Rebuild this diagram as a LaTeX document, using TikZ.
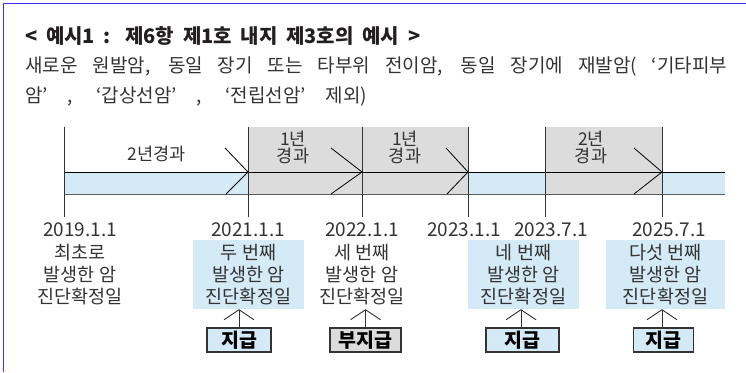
\documentclass[tikz,border=0pt]{standalone}
\usepackage{fontspec}
\setmainfont{Noto Sans CJK KR}
\usetikzlibrary{arrows.meta}
\definecolor{frameblue}{HTML}{3535F0}
\definecolor{bandblue}{HTML}{D5EAF7}
\definecolor{boxgray}{HTML}{DCDCDC}
\definecolor{ink}{HTML}{231F20}
\definecolor{txt}{HTML}{333333}
\definecolor{linegray}{HTML}{333333}
\tikzset{
  titletext/.style={anchor=base west, inner sep=0pt, text=ink, font=\bfseries\fontsize{20}{20}\selectfont},
  bodytext/.style={anchor=base west, inner sep=0pt, text=txt, font=\fontsize{19}{19}\selectfont},
  bandlabel/.style={inner sep=0pt, text=txt, align=center, font=\fontsize{17.5}{17}\selectfont},
  datelabel/.style={inner sep=0pt, text=txt, font=\fontsize{19}{19}\selectfont},
  desc/.style={inner sep=0pt, text=txt, align=center, minimum height=69pt, font=\fontsize{18.5}{21.8}\selectfont},
  descbox/.style={desc, fill=bandblue},
  paybox/.style={draw=linegray, line width=1.5pt, minimum height=24pt, inner sep=0pt, text=black, font=\bfseries\fontsize{19.5}{19.5}\selectfont},
  vline/.style={draw=linegray, line width=0.9pt},
  chev/.style={draw=black, line width=0.8pt},
  uparrow/.style={draw=linegray, line width=0.9pt, -{Straight Barb[width=30pt,length=10pt,line width=0.9pt]}},
}
\begin{document}
\begin{tikzpicture}[x=1pt,y=-1pt]
\useasboundingbox (0,0) rectangle (746,372);
% frame
\draw[frameblue, line width=1.5pt] (3.3,372) -- (3.3,3.5) -- (746,3.5);
% heading text
\node[titletext] (title) at (25,43) {\makebox[395pt][s]{< 예시1 : 제6항 제1호 내지 제3호의 예시 >}};
\node[bodytext] (body1) at (25,72.5) {\makebox[702pt][s]{새로운 원발암, 동일 장기 또는 타부위 전이암, 동일 장기에 재발암( ‘기타피부}};
\node[bodytext] (body2) at (25,102.5) {\makebox[342pt][s]{암’ , ‘갑상선암’ , ‘전립선암’ 제외)}};
% band
\fill[bandblue] (64,172) rectangle (725,194);
\fill[boxgray] (248,127) rectangle (468,194);
\fill[boxgray] (545,127) rectangle (662,194);
\draw[black, line width=0.9pt] (64,172) -- (725,172);
\draw[linegray!80, line width=0.9pt] (64,194) -- (725,194);
\foreach \x in {64,248,362,468,545,662} \draw[vline] (\x,127) -- (\x,217);
% chevrons
\draw[chev] (225,148) -- (248,172) -- (226,194);
\draw[chev] (331,148) -- (362,172) -- (331,194);
\draw[chev] (446,148) -- (468,172) -- (447,194);
\draw[chev] (634,148) -- (662,172) -- (634,194);
% band labels
\node[bandlabel] (l1) at (157,153.5) {2년경과};
\node[bandlabel] (l2) at (293,147.5) {1년\\경과};
\node[bandlabel] (l3) at (405,147.5) {1년\\경과};
\node[bandlabel] (l4) at (591,147.5) {2년\\경과};
% dates
\node[datelabel] (t1) at (80,230) {2019.1.1};
\node[datelabel] (t2) at (248,230) {2021.1.1};
\node[datelabel] (t3) at (362,230) {2022.1.1};
\node[datelabel] (t4) at (464,230) {2023.1.1};
\node[datelabel] (t5) at (551,230) {2023.7.1};
\node[datelabel] (t6) at (669,230) {2025.7.1};
% descriptions
\node[desc] (d1) at (80,274.5) {최초로\\발생한 암\\진단확정일};
\node[descbox, minimum width=111pt] (d2) at (248.5,274.5) {두 번째\\발생한 암\\진단확정일};
\node[desc] (d3) at (362,274.5) {세 번째\\발생한 암\\진단확정일};
\node[descbox, minimum width=111pt] (d4) at (523.5,274.5) {네 번째\\발생한 암\\진단확정일};
\node[descbox, minimum width=119pt] (d5) at (665.5,274.5) {다섯 번째\\발생한 암\\진단확정일};
% payment boxes
\node[paybox, fill=bandblue, minimum width=64pt] (p1) at (239,340) {지급};
\node[paybox, fill=boxgray, minimum width=71pt] (p2) at (365.5,340) {부지급};
\node[paybox, fill=bandblue, minimum width=73pt] (p3) at (522.5,340) {지급};
\node[paybox, fill=bandblue, minimum width=60pt] (p4) at (663.5,340) {지급};
% arrows
\draw[uparrow] (p1.north) -- (p1.north |- d2.south);
\draw[uparrow] (p2.north) -- (p2.north |- d3.south);
\draw[uparrow] ([xshift=-1.5pt]p3.north) -- ([xshift=-1.5pt]p3.north |- d4.south);
\draw[uparrow] ([xshift=-1.5pt]p4.north) -- ([xshift=-1.5pt]p4.north |- d5.south);
\end{tikzpicture}
\end{document}
